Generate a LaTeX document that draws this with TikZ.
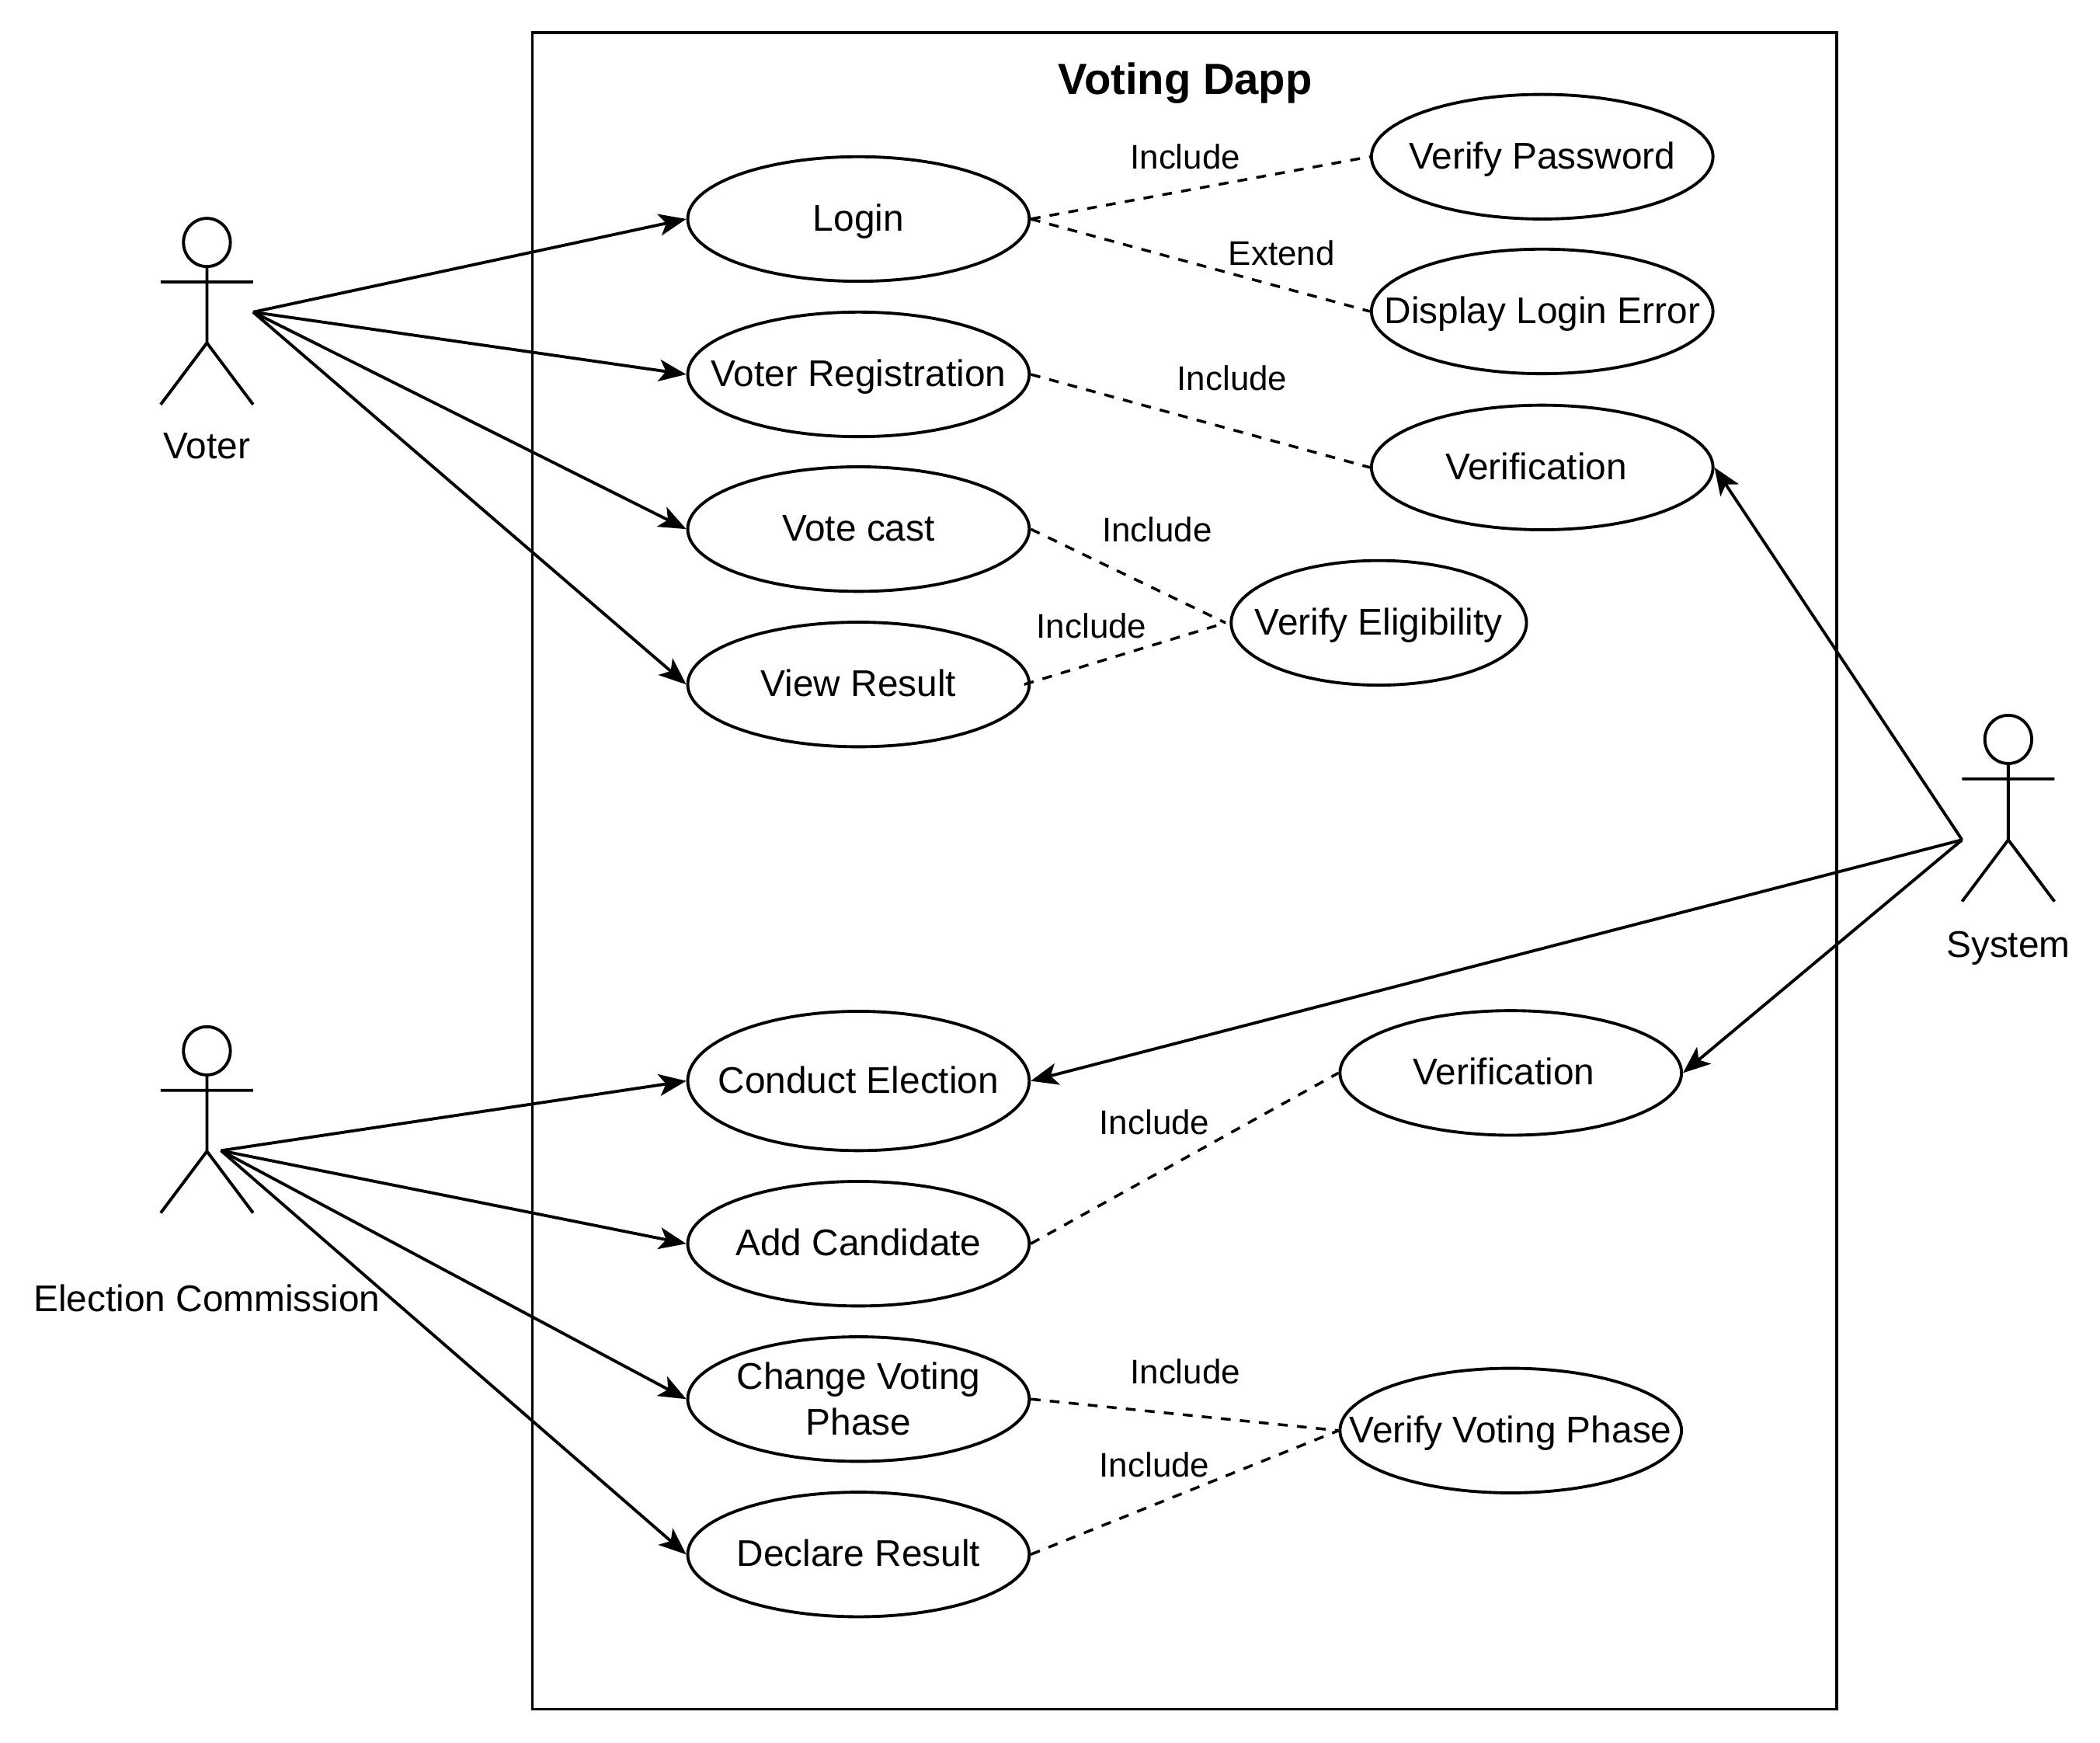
\documentclass[tikz,border=0pt]{standalone}
\usepackage{fontspec}
\setmainfont{Liberation Sans}
\usetikzlibrary{arrows.meta,shapes.geometric}
\newcommand\uc[1]{\makebox[0pt][c]{#1}}
\tikzset{
  usecase/.style={draw=black,ellipse,line width=1.1pt,inner sep=0pt,minimum width=255*0.017245cm,minimum height=93*0.017245cm,align=center,text height=11.4pt,text depth=2.66pt,font=\fontsize{13.6}{16.7}\selectfont},
  narrowcase/.style={usecase,minimum width=220.5*0.017245cm},
  tallcase/.style={usecase,minimum height=104*0.017245cm},
  twoline/.style={usecase,text height=,text depth=},
  assoc/.style={line width=1.1pt,-{Stealth[length=10pt,width=8pt,inset=2.5pt]}},
  dep/.style={line width=1pt,dash pattern=on 3.6pt off 3.4pt},
  edgetext/.style={inner sep=0pt,font=\fontsize{12.5}{15}\selectfont},
  actortext/.style={inner sep=0pt,font=\fontsize{13.6}{16.7}\selectfont},
  titletext/.style={inner sep=0pt,font=\fontsize{16}{19}\selectfont\bfseries},
  frame/.style={draw=black,line width=1.1pt},
  actor/.pic={
    \draw[line width=1.1pt] (0,0) ellipse (17.5 and 18);
    \draw[line width=1.1pt] (0,18) -- (0,75) (-34.5,29.5) -- (34.5,29.5)
      (-34.5,121) -- (0,75) -- (34.5,121);
  }
}
\begin{document}
\begin{tikzpicture}[x=0.017245cm,y=-0.017245cm]
\useasboundingbox (0,0) rectangle (1568,1301.2);
\fill[white] (0,0) rectangle (1568,1301.2);
\draw[frame] (397.5,24.5) rectangle (1371.5,1276);
\node[titletext] (title) at (885,62) {Voting Dapp};

% actors
\pic at (154.5,181) {actor};
\pic at (154.5,784.5) {actor};
\pic at (1499.5,552) {actor};
\node[actortext] (voter) at (154.5,333) {Voter};
\node[actortext] (commission) at (154.5,969) {Election Commission};
\node[actortext] (system) at (1499.5,708) {System};
\coordinate (voterhand) at (189,233);
\coordinate (commissionhand) at (165,859);
\coordinate (systemhand) at (1465,627);

% use cases
\node[usecase] (login) at (641,163.5) {\uc{Login}};
\node[usecase] (reg) at (641,279.5) {\uc{Voter Registration}};
\node[usecase] (cast) at (641,395) {\uc{Vote cast}};
\node[usecase] (view) at (641,511) {\uc{View Result}};
\node[tallcase] (conduct) at (641,807) {\uc{Conduct Election}};
\node[usecase] (add) at (641,928.5) {\uc{Add Candidate}};
\node[twoline] (phase) at (641,1044.5) {\uc{Change Voting}\\\uc{Phase}};
\node[usecase] (declare) at (641,1160.5) {\uc{Declare Result}};
\node[usecase] (vpass) at (1151.5,117) {\uc{Verify Password}};
\node[usecase] (lerr) at (1151.5,232.5) {\uc{Display Login Error}};
\node[usecase] (verif) at (1151.5,349) {\uc{Verification\hspace{4.4pt}}};
\node[narrowcase] (elig) at (1029.5,465) {\uc{Verify Eligibility}};
\node[usecase] (verifb) at (1128,801) {\uc{Verification\hspace{5pt}}};
\node[usecase] (vphase) at (1128,1068) {\uc{Verify Voting Phase}};

% associations
\draw[assoc] (voterhand) -- (login.west);
\draw[assoc] (voterhand) -- (reg.west);
\draw[assoc] (voterhand) -- (cast.west);
\draw[assoc] (voterhand) -- (view.west);
\draw[assoc] (commissionhand) -- (conduct.west);
\draw[assoc] (commissionhand) -- (add.west);
\draw[assoc] (commissionhand) -- (phase.west);
\draw[assoc] (commissionhand) -- (declare.west);
\draw[assoc] (systemhand) -- (verif.east);
\draw[assoc] (systemhand) -- (conduct.east);
\draw[assoc] (systemhand) -- (verifb.east);

% dependencies
\draw[dep] (login.east) -- (vpass.west);
\draw[dep] (login.east) -- (lerr.west);
\draw[dep] (reg.east) -- (verif.west);
\draw[dep] (cast.east) -- ([xshift=-1.5pt]elig.west);
\draw[dep] ([xshift=-2.4pt]view.east) -- ([xshift=-1.5pt]elig.west);
\draw[dep] (add.east) -- (verifb.west);
\draw[dep] (phase.east) -- (vphase.west);
\draw[dep] (declare.east) -- (vphase.west);

% labels
\node[edgetext] (l1) at (885,117) {Include};
\node[edgetext] (l2) at (957,189) {Extend};
\node[edgetext] (l3) at (920,282) {Include};
\node[edgetext] (l4) at (864,395.5) {Include};
\node[edgetext] (l5) at (815,467) {Include};
\node[edgetext] (l6) at (862,838) {Include};
\node[edgetext] (l7) at (885,1024) {Include};
\node[edgetext] (l8) at (862,1093.5) {Include};
\end{tikzpicture}
\end{document}
